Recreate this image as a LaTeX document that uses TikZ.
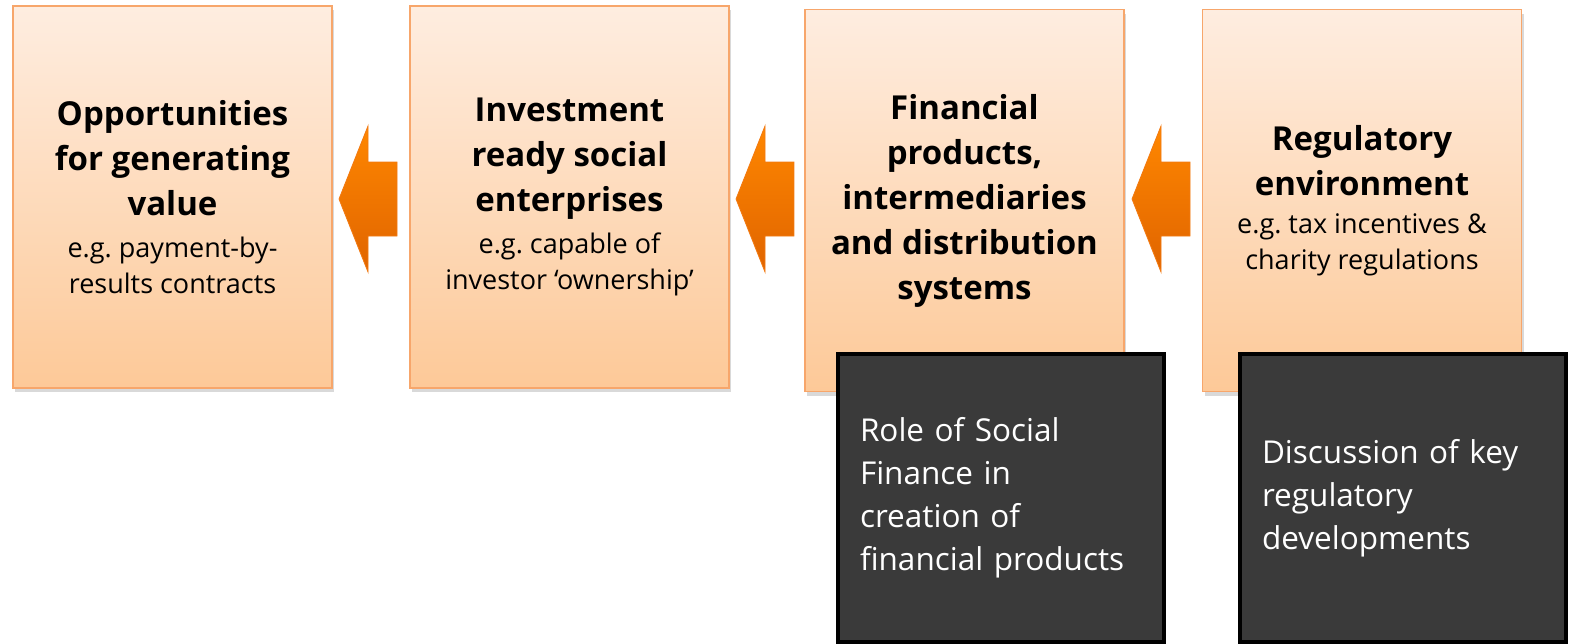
\documentclass[tikz,border=0pt]{standalone}
\usepackage{fontspec}
\setmainfont{Open Sans}
\usetikzlibrary{shadows}
\definecolor{boxtop}{RGB}{254,237,224}
\definecolor{boxbot}{RGB}{253,201,152}
\definecolor{boxedge}{RGB}{247,166,107}
\definecolor{arrtop}{RGB}{255,135,0}
\definecolor{arrbot}{RGB}{224,100,0}
\definecolor{arredge}{RGB}{242,122,18}
\definecolor{darkfill}{RGB}{58,58,58}
\newcommand{\fixspaces}{\spaceskip=\fontdimen2\font\xspaceskip=\fontdimen2\font\relax}
\newcommand{\ttlfont}{\bfseries\fontsize{33}{45}\selectfont\fixspaces}
\newcommand{\sbtfont}{\mdseries\fontsize{27}{36}\selectfont\fixspaces}
\tikzset{
  stagebox/.style={draw=boxedge, line width=1.5pt, top color=boxtop, bottom color=boxbot,
    minimum width=319pt, minimum height=382pt, text width=305pt, align=center, inner sep=0pt,
    drop shadow={opacity=0.3, shadow xshift=2pt, shadow yshift=-4pt}},
  notebox/.style={draw=black, line width=3.5pt, fill=darkfill, text=white,
    minimum width=326pt, minimum height=288pt, text width=282pt, align=left,
    inner xsep=22pt, inner ysep=0pt, font=\fontsize{31.5}{43}\selectfont},
  blockarrow/.style={draw=arredge, line width=0.8pt, top color=arrtop, bottom color=arrbot, line join=miter}
}
\begin{document}
\begin{tikzpicture}[x=1pt,y=-1pt]
\useasboundingbox (0,0) rectangle (1569,643);
\node[stagebox] (b1) at (172.5,197) {\ttlfont Opportunities\\for generating\\value\par\vspace{6pt}\sbtfont e.g. payment-by-\\results contracts\par};
\node[stagebox] (b2) at (569.5,197) {\ttlfont Investment\\ready social\\enterprises\par\vspace{6pt}\sbtfont e.g. capable of\\investor ‘ownership’\par};
\node[stagebox] (b3) at (964.5,200.5) {\ttlfont Financial\\products,\\intermediaries\\and distribution\\systems\par};
\node[stagebox] (b4) at (1362,200.5) {\ttlfont Regulatory\\environment\par\vspace{2pt}\sbtfont e.g. tax incentives \&\\charity regulations\par};
\foreach \x in {339,736,1132}
  \path[blockarrow] (\x,199) -- (\x+29,126) -- (\x+29,162) -- (\x+58,162) -- (\x+58,236) -- (\x+29,236) -- (\x+29,272) -- cycle;
\node[notebox] (d1) at (1001,498) {Role of Social\\Finance in\\creation of\\financial products};
\node[notebox] (d2) at (1403,498) {Discussion of key\\regulatory\\developments};
\end{tikzpicture}
\end{document}
